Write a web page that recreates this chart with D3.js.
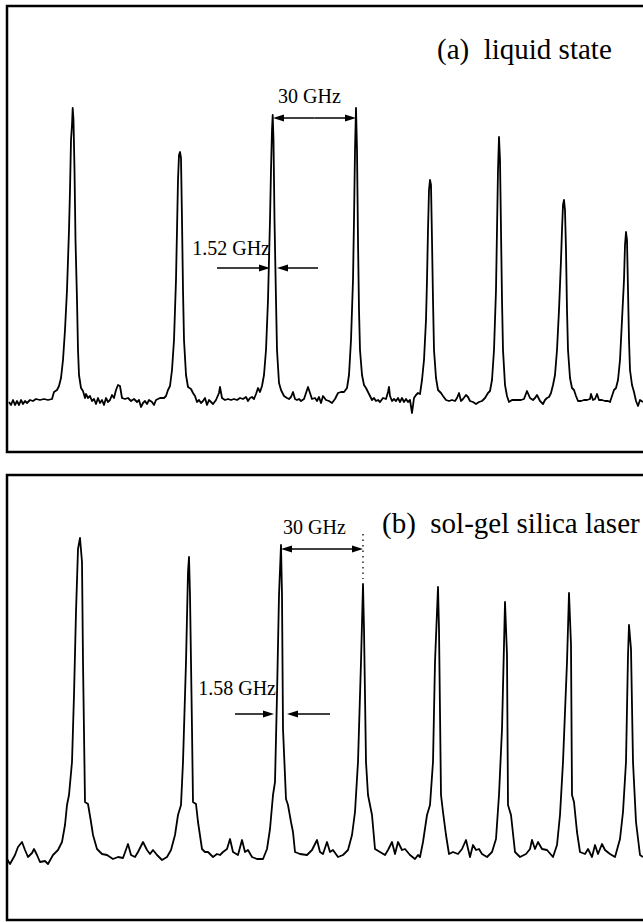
<!DOCTYPE html>
<html>
<head>
<meta charset="utf-8">
<script src="https://cdn.jsdelivr.net/npm/d3@7"></script>
<style>
  body { margin: 0; background: #fff; }
  svg text { font-family: "Liberation Serif", "Times New Roman", serif; fill: #000; white-space: pre; }
</style>
</head>
<body>
<div id="chart"></div>
<script>
// Fabry-Perot scans, [scan channel, signal (a.u.)]

const scanLiquid = [
  [2,-2],[4,-5],[6,0],[8,-5],[10,-1],[12,-5],[14,0],[16,-4],[18,-1],[20,-3],[23,0],[26,-1],[29,1],[33,0],[37,1],[41,0],[45,1],
  [47,8],[50,10],[52,14],[54,22],[56,40],[58,70],[60,110],[62,170],[63,210],[64,260],[65,275],[65.7,292],[66.5,280],[67.5,230],
  [68.5,160],[70,100],[71,50],[72,25],[74,12],[76,9],[78,2],[79,6],[81,2],[83,4],[85,-1],[87,1],[89,-4],[91,2],[93,-3],[95,0],
  [97,-5],[99,2],[101,-2],[103,0],[105,5],[107,2],[109,10],[111,15],[113,14],[115,2],[118,1],[121,2],[124,-1],[127,1],[130,-2],
  [132,0],[134,-7],[136,-3],[138,-1],[140,-4],[142,0],[145,-2],[147,-5],[149,0],[153,2],[157,2],[159,4],[161,10],[163,14],
  [165,30],[167,60],[169,120],[170,170],[171,220],[172,245],[173,248],[174,242],[175,180],[176,110],[177,60],[179,25],[181,13],
  [184,11],[186,7],[188,4],[190,-2],[192,0],[194,-3],[196,-1],[198,2],[200,-5],[202,0],[204,-2],[206,-4],[209,0],[212,7],
  [213,13],[215,2],[218,0],[221,1],[224,0],[227,1],[230,0],[233,2],[236,1],[239,3],[241,-1],[243,2],[245,3],[247,1],[249,6],
  [251,12],[253,8],[255,14],[257,25],[259,50],[261,100],[263,180],[264,230],[265,270],[265.7,285],[266.5,260],[267.5,180],
  [269,100],[270,50],[272,17],[274,10],[277,4],[280,2],[282,1],[284,3],[286,8],[288,1],[290,0],[292,1],[294,-1],[297,1],
  [299,7],[301,13],[303,7],[305,1],[308,2],[310,-1],[312,3],[314,-3],[316,4],[319,0],[322,-1],[325,-3],[328,1],[331,7],[334,8],
  [337,8],[340,12],[342,25],[344,60],[346,120],[347,180],[348,250],[349,292],[350,250],[351,160],[352,90],[353,50],[355,25],
  [357,15],[359,12],[361,8],[363,4],[365,0],[367,2],[369,-1],[371,0],[373,-2],[376,2],[379,1],[381,8],[382,13],[383,4],
  [385,-1],[387,1],[389,-1],[391,2],[393,-2],[395,2],[397,-2],[399,1],[401,-2],[403,0],[405,-13],[407,2],[409,5],[411,7],
  [413,6],[415,20],[417,40],[419,80],[420,120],[421,170],[422,210],[423,220],[424,215],[425,160],[426,100],[427,50],[429,22],
  [431,10],[434,7],[436,4],[439,0],[442,-1],[445,0],[448,-1],[450,2],[452,7],[454,-1],[456,1],[459,5],[461,3],[463,-1],
  [466,-2],[469,-4],[472,-2],[475,-1],[478,2],[481,7],[483,9],[485,20],[487,50],[489,110],[490,170],[491,230],[492,263],
  [493,240],[494,170],[495,100],[496,50],[498,15],[500,4],[502,-2],[505,0],[508,0],[511,0],[514,0],[517,1],[520,9],[523,2],
  [526,0],[528,2],[530,5],[533,-1],[536,-4],[538,0],[540,2],[542,3],[544,7],[546,15],[548,25],[550,50],[552,90],[554,140],
  [555,170],[556,195],[557,200],[558,190],[559,150],[560,90],[561,50],[563,22],[565,12],[567,10],[569,4],[571,-1],[574,-1],
  [577,0],[580,0],[583,1],[584,6],[586,0],[588,1],[590,6],[592,0],[595,0],[598,-1],[601,-1],[603,-2],[605,4],[607,10],
  [609,12],[611,20],[613,40],[615,80],[617,120],[618,155],[619,168],[620,160],[621,110],[622,60],[623,30],[625,15],[627,8],
  [629,-1],[631,-6],[633,0],[636,-2]
];

const scanSolGel = [
  [0,0],[3,-5],[8,4],[11,12],[15,17],[18,9],[21,2],[25,6],[27,10],[30,4],[33,-3],[38,-2],[41,-5],[46,4],[51,9],[55,17],
  [58,34],[60,54],[62,64],[65,97],[67,164],[69,247],[71,310],[73,321],[75,297],[76,197],[78,57],[81,55],[84,37],[86,24],
  [90,10],[95,5],[100,4],[106,0],[111,2],[116,1],[121,15],[124,4],[128,2],[131,7],[136,17],[140,9],[143,5],[146,9],[150,4],
  [155,-1],[160,2],[164,9],[168,24],[171,44],[174,54],[176,97],[179,197],[181,287],[182,302],[183,264],[185,130],[186,57],
  [189,55],[191,37],[195,10],[198,7],[201,7],[206,2],[210,5],[213,4],[216,7],[220,10],[223,20],[226,7],[231,4],[235,19],
  [238,7],[241,9],[245,2],[250,0],[256,0],[260,10],[263,30],[266,64],[268,77],[270,164],[272,264],[274,314],[275,264],
  [276,130],[279,60],[281,54],[284,37],[286,27],[288,7],[293,5],[300,4],[305,9],[310,19],[313,7],[316,5],[320,17],[323,7],
  [326,9],[331,2],[336,4],[341,9],[345,24],[348,47],[351,97],[354,197],[356,275],[357,230],[359,97],[361,64],[365,44],
  [368,10],[373,7],[378,4],[381,9],[385,17],[388,5],[391,17],[395,9],[398,10],[403,4],[408,0],[411,4],[413,2],[416,17],
  [420,44],[423,54],[426,97],[428,197],[430,247],[431,272],[432,230],[434,64],[436,47],[439,24],[442,5],[446,7],[451,5],
  [455,10],[459,19],[463,2],[466,14],[469,9],[472,10],[475,5],[480,2],[485,7],[489,20],[492,64],[495,130],[497,214],
  [498,257],[500,204],[501,54],[504,44],[508,7],[513,2],[519,5],[523,10],[525,19],[528,10],[531,17],[535,10],[540,9],
  [546,2],[550,14],[553,44],[556,97],[560,197],[562,266],[564,214],[565,64],[567,57],[570,27],[573,7],[578,5],[581,10],
  [585,2],[588,14],[591,5],[595,15],[598,9],[603,5],[608,2],[613,20],[616,47],[619,97],[621,204],[622,234],[624,210],
  [626,97],[629,37],[633,4],[636,2]
];

const panelTitles = ["(a)  liquid state", "(b)  sol-gel silica laser"];
const spacingLabels = ["30 GHz", "30 GHz"];
const widthLabels = ["1.52 GHz", "1.58 GHz"];

const W = 643, H = 922;

const svg = d3.select("#chart").append("svg")
  .attr("width", W)
  .attr("height", H);

const x = d3.scaleLinear().domain([0, 640]).range([7, 647]);

// panel frames: top/bottom of box, baseline of trace
const panels = [
  { top: 6, bottom: 452, base: 400, data: scanLiquid },
  { top: 475, bottom: 920, base: 859, data: scanSolGel }
];

function arrow(g, x1, x2, y) {
  // line from x1 to x2 with a filled head at x2
  const dir = x2 > x1 ? 1 : -1;
  const len = 11, half = 3.5;
  g.append("line")
    .attr("x1", x1).attr("x2", x2 - dir * len * 0.6)
    .attr("y1", y).attr("y2", y)
    .attr("stroke", "#000").attr("stroke-width", 1.6);
  g.append("path")
    .attr("d", `M${x2},${y} L${x2 - dir * len},${y - half} L${x2 - dir * len},${y + half} Z`)
    .attr("fill", "#000");
}

panels.forEach((p, i) => {
  const y = d3.scaleLinear().domain([0, 300]).range([p.base, p.base - 300]);
  const g = svg.append("g");

  g.append("rect")
    .attr("x", 7).attr("y", p.top)
    .attr("width", 660).attr("height", p.bottom - p.top)
    .attr("fill", "none").attr("stroke", "#000").attr("stroke-width", 2.5);

  const line = d3.line().x((d) => x(d[0])).y((d) => y(d[1]));

  g.append("path")
    .datum(p.data)
    .attr("d", line)
    .attr("fill", "none")
    .attr("stroke", "#000")
    .attr("stroke-width", 1.8)
    .attr("stroke-linejoin", "round");

  const ann = g.append("g");

  if (i === 0) {
    ann.append("text").attr("x", x(430)).attr("y", y(341))
      .attr("font-size", 29).text(panelTitles[0]);
    ann.append("text").attr("x", x(271)).attr("y", y(297))
      .attr("font-size", 20).text(spacingLabels[0]);
    const yf = y(282);
    const xm = (x(266) + x(349)) / 2;
    arrow(ann, xm, x(266), yf);
    arrow(ann, xm, x(349), yf);
    ann.append("text").attr("x", x(263)).attr("y", y(145))
      .attr("text-anchor", "end").attr("font-size", 20).text(widthLabels[0]);
    arrow(ann, x(210), x(263), y(132));
    arrow(ann, x(311), x(270), y(132));
  } else {
    ann.append("text").attr("x", x(375)).attr("y", y(326))
      .attr("font-size", 29).text(panelTitles[1]);
    ann.append("text").attr("x", x(276)).attr("y", y(325))
      .attr("font-size", 20).text(spacingLabels[1]);
    const yf = y(310);
    const xm = (x(274) + x(356)) / 2;
    arrow(ann, xm, x(274), yf);
    arrow(ann, xm, x(356), yf);
    ann.append("line")
      .attr("x1", x(356)).attr("x2", x(356))
      .attr("y1", y(325)).attr("y2", y(280))
      .attr("stroke", "#000").attr("stroke-width", 1.3)
      .attr("stroke-dasharray", "1.5,4");
    ann.append("text").attr("x", x(269)).attr("y", y(164))
      .attr("text-anchor", "end").attr("font-size", 20).text(widthLabels[1]);
    arrow(ann, x(228), x(267), y(145));
    arrow(ann, x(323), x(280), y(145));
  }
});
</script>
</body>
</html>
